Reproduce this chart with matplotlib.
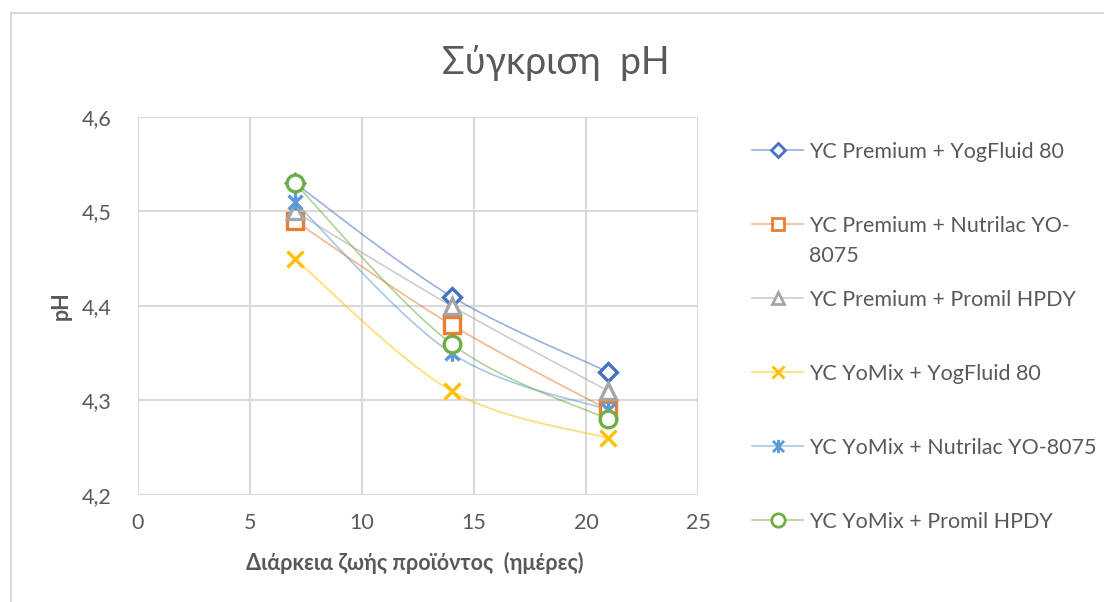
import matplotlib
matplotlib.use("Agg")
import matplotlib.pyplot as plt
from matplotlib.lines import Line2D
from matplotlib.path import Path
import numpy as np

# data
days = [7, 14, 21]
series_names = [
    "YC Premium + YogFluid 80",
    "YC Premium + Nutrilac YO-\n8075",
    "YC Premium + Promil HPDY",
    "YC YoMix + YogFluid 80",
    "YC YoMix + Nutrilac YO-8075",
    "YC YoMix + Promil HPDY",
]
premium_yogfluid = [4.53, 4.41, 4.33]
premium_nutrilac = [4.49, 4.38, 4.29]
premium_promil = [4.50, 4.40, 4.31]
yomix_yogfluid = [4.45, 4.31, 4.26]
yomix_nutrilac = [4.51, 4.35, 4.29]
yomix_promil = [4.53, 4.36, 4.28]

all_values = [premium_yogfluid, premium_nutrilac, premium_promil,
              yomix_yogfluid, yomix_nutrilac, yomix_promil]
colors = ["#4472C4", "#ED7D31", "#A5A5A5", "#FFC000", "#5B9BD5", "#70AD47"]

TEXT = "#595959"
GRID = "#D9D9D9"
FONT = "Lato"

# excel style star marker (x plus vertical bar)
star = Path(
    [(-1, -1), (1, 1), (-1, 1), (1, -1), (0, -1.2), (0, 1.2)],
    [Path.MOVETO, Path.LINETO, Path.MOVETO, Path.LINETO, Path.MOVETO, Path.LINETO],
)
markers = ["D", "s", "^", "x", star, "o"]
msizes = [9, 11, 11, 11, 12, 12]


def smooth(xs, ys, n=40):
    # bezier smoothing similar to excel's smoothed line
    xs = np.asarray(xs, float)
    ys = np.asarray(ys, float)
    px, py = [], []
    for i in range(len(xs) - 1):
        i0 = max(i - 1, 0)
        i3 = min(i + 2, len(xs) - 1)
        c1 = (xs[i] + (xs[i + 1] - xs[i0]) / 6, ys[i] + (ys[i + 1] - ys[i0]) / 6)
        c2 = (xs[i + 1] - (xs[i3] - xs[i]) / 6, ys[i + 1] - (ys[i3] - ys[i]) / 6)
        t = np.linspace(0, 1, n)
        bx = ((1 - t) ** 3 * xs[i] + 3 * (1 - t) ** 2 * t * c1[0]
              + 3 * (1 - t) * t ** 2 * c2[0] + t ** 3 * xs[i + 1])
        by = ((1 - t) ** 3 * ys[i] + 3 * (1 - t) ** 2 * t * c1[1]
              + 3 * (1 - t) * t ** 2 * c2[1] + t ** 3 * ys[i + 1])
        px.extend(bx)
        py.extend(by)
    return px, py


fig = plt.figure(figsize=(11.04, 6.02), dpi=100)
ax = fig.add_axes([138 / 1104, 1 - 495 / 602, 560 / 1104, 378 / 602])

for vals, c in zip(all_values, colors):
    sx, sy = smooth(days, vals)
    ax.plot(sx, sy, color=c, alpha=0.55, lw=1.2, zorder=2)

for vals, c, m, ms in zip(all_values, colors, markers, msizes):
    filled = m not in ("x", star)
    ax.plot(days, vals, ls="none", marker=m, ms=ms, mec=c,
            mfc="white" if filled else c, mew=2.4, zorder=3)

ax.set_xlim(0, 25)
ax.set_ylim(4.2, 4.6)
ax.set_xticks([0, 5, 10, 15, 20, 25])
ax.set_yticks([4.2, 4.3, 4.4, 4.5, 4.6])
ax.set_yticklabels(["4,2", "4,3", "4,4", "4,5", "4,6"])
ax.grid(True, color=GRID, lw=1.5)
ax.set_axisbelow(True)
for s in ax.spines.values():
    s.set_visible(False)
ax.tick_params(length=0, labelsize=15.5, labelcolor=TEXT)
ax.tick_params(axis="y", pad=19)
ax.tick_params(axis="x", pad=13)
for lab in ax.get_xticklabels() + ax.get_yticklabels():
    lab.set_fontfamily(FONT)

ax.set_ylabel("pH", fontsize=15.5, fontweight="bold", color=TEXT, family=FONT, va="center")
ax.yaxis.set_label_coords(-0.1375, 0.5)
ax.set_xlabel("Διάρκεια ζωής προϊόντος  (ημέρες)", fontsize=15.5, fontweight="bold",
              color=TEXT, family=FONT, va="center")
ax.xaxis.set_label_coords(0.495, -0.18)

fig.text(556 / 1104, 1 - 63 / 602, "Σύγκριση  pH", fontsize=27, color=TEXT,
         family=FONT, ha="center", va="center")

# legend drawn by hand to match the layout
legend_y = [150, 224, 298, 372, 446, 520]
for name, c, m, ms, y in zip(series_names, colors, markers, msizes, legend_y):
    yf = 1 - y / 602
    fig.add_artist(Line2D([752 / 1104, 803 / 1104], [yf, yf], color=c, alpha=0.55,
                          lw=1.2, transform=fig.transFigure))
    filled = m not in ("x", star)
    fig.add_artist(Line2D([778 / 1104], [yf], marker=m, ms=ms * 0.8, mec=c,
                          mfc="white" if filled else c, mew=2, ls="none",
                          transform=fig.transFigure))
    for k, part in enumerate(name.split("\n")):
        fig.text(809 / 1104, yf - k * 30 / 602, part, fontsize=15.5, color=TEXT,
                 family=FONT, ha="left", va="center_baseline")

# chart frame
fig.add_artist(Line2D([11 / 1104, 11 / 1104], [0, 1 - 13 / 602], color=GRID, lw=1.5,
                      transform=fig.transFigure))
fig.add_artist(Line2D([11 / 1104, 1], [1 - 13 / 602, 1 - 13 / 602], color=GRID, lw=1.5,
                      transform=fig.transFigure))

fig.savefig("out.png", dpi=100)
